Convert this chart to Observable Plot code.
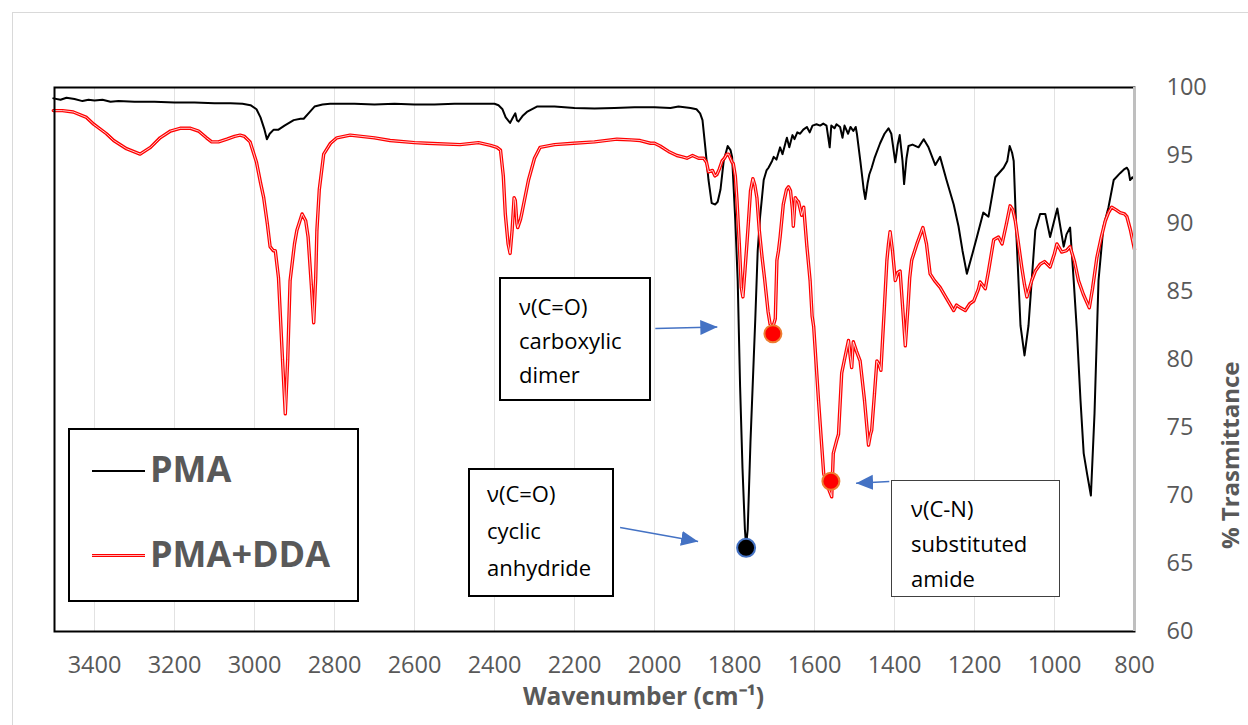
<!DOCTYPE html>
<html>
<head>
<meta charset="utf-8">
<script src="https://cdn.jsdelivr.net/npm/d3@7"></script>
<script src="https://cdn.jsdelivr.net/npm/@observablehq/plot@0.6"></script>
<style>
  html, body { margin: 0; padding: 0; background: #fff; overflow: hidden; }
  #wrap { position: relative; width: 1248px; height: 725px; font-family: "Open Sans", sans-serif; }
  #outer { position: absolute; left: 12px; top: 12px; width: 1260px; height: 740px; border: 1px solid #d9d9d9; box-sizing: border-box; }
  .box { position: absolute; box-sizing: border-box; background: #fff; color: #000; font-size: 22px; white-space: nowrap; }
  .legend { position: absolute; box-sizing: border-box; left: 68px; top: 428px; width: 291px; height: 174px; border: 2px solid #000; background: #fff; }
  .lg-line { position: absolute; left: 22px; width: 53px; }
  .lg-text { position: absolute; left: 80px; font-weight: bold; font-size: 36px; line-height: 40px; color: #595959; white-space: nowrap; }
  svg { position: absolute; left: 0; top: 0; }
</style>
</head>
<body>
<div id="wrap">
  <div id="outer"></div>
</div>
<script>
// ---- data ----
const xTicks = [3400, 3200, 3000, 2800, 2600, 2400, 2200, 2000, 1800, 1600, 1400, 1200, 1000, 800];
const yTicks = [60, 65, 70, 75, 80, 85, 90, 95, 100];
const seriesNames = ["PMA", "PMA+DDA"];
const xTitle = "Wavenumber (cm\u207B\u00B9)";
const yTitle = "% Trasmittance";

// PMA spectrum: [wavenumber, %T]
const pmaSpectrum = [
  [3503,99.2],[3485,99.1],[3470,99.25],[3450,99.15],[3430,99.0],[3415,99.1],[3400,99.05],[3380,99.1],[3360,98.95],[3340,99.0],
  [3300,98.95],[3250,98.95],[3200,98.9],[3150,98.9],[3100,98.85],[3060,98.85],[3030,98.8],[3010,98.7],[2995,98.4],
  [2985,97.8],[2975,96.9],[2969,96.2],[2962,96.6],[2952,96.9],[2940,96.9],[2925,97.2],[2902,97.6],[2885,97.7],
  [2877,97.7],[2865,98.1],[2850,98.6],[2830,98.75],[2811,98.8],[2750,98.8],[2700,98.75],[2650,98.8],[2600,98.75],
  [2550,98.75],[2500,98.8],[2450,98.8],[2400,98.8],[2390,98.7],[2380,98.4],[2372,97.8],[2361,97.4],[2354,97.8],
  [2348,98.1],[2344,97.6],[2340,97.5],[2330,97.9],[2319,98.2],[2294,98.6],[2250,98.6],[2200,98.5],[2150,98.45],
  [2100,98.5],[2050,98.55],[2000,98.55],[1960,98.5],[1940,98.6],[1910,98.5],[1895,98.4],[1886,98.1],[1880,97.6],
  [1873,95.6],[1865,93.2],[1857,91.5],[1848,91.4],[1842,91.6],[1835,92.5],[1827,94.6],[1817,95.7],[1810,95.4],
  [1806,94.9],[1798,90.2],[1792,85.8],[1786,78],[1780,72],[1774,67.5],[1771,66.3],[1767,67.5],[1760,74],[1752,80],
  [1748,83],[1742,88],[1736,90.5],[1727,93.2],[1720,93.9],[1715,94.1],[1706,94.6],[1702,94.9],[1695,94.7],[1686,95.6],
  [1680,95.1],[1672,96.0],[1669,96.3],[1663,95.6],[1655,96.5],[1650,96.2],[1643,96.7],[1636,96.6],[1628,96.9],
  [1619,97.1],[1612,96.7],[1605,97.2],[1595,97.3],[1586,97.2],[1578,97.35],[1570,97.2],[1565,96.2],[1562,95.6],
  [1558,97.2],[1550,97.0],[1545,97.3],[1536,97.1],[1530,96.3],[1525,97.2],[1516,96.6],[1510,97.1],[1503,96.8],
  [1497,97.1],[1494,96.6],[1485,94.5],[1477,92.5],[1473,91.8],[1467,93.0],[1463,93.6],[1457,94.1],[1450,94.8],
  [1436,95.9],[1425,96.6],[1415,97.0],[1408,96.6],[1398,94.5],[1392,95.8],[1387,96.5],[1380,94.6],[1376,92.9],
  [1370,94.8],[1365,95.7],[1355,95.8],[1340,95.6],[1327,96.2],[1315,95.6],[1298,94.3],[1286,94.9],[1270,93.2],
  [1252,91.4],[1240,89.8],[1230,88],[1219,86.3],[1205,87.8],[1194,89.0],[1178,90.8],[1165,90.5],[1148,93.4],
  [1127,94.1],[1118,94.6],[1112,95.7],[1106,95.2],[1102,94.6],[1095,89],[1085,82.5],[1075,80.3],[1065,82.5],
  [1057,85.8],[1048,89.5],[1036,90.7],[1023,90.7],[1011,89.0],[1000,90.3],[993,91.1],[985,89.7],[977,88.3],
  [970,89.2],[961,89.7],[952,85.8],[944,82.1],[935,77],[927,73.1],[918,71.5],[909,70.0],[900,76],[890,85.8],
  [878,89.7],[865,91.2],[852,93.2],[836,93.7],[825,94.0],[819,94.1],[815,93.9],[811,93.2],[805,93.4],[800,93.2]
];

// PMA+DDA spectrum: [wavenumber, %T]
const ddaSpectrum = [
  [3503,98.3],[3480,98.3],[3453,98.2],[3420,97.8],[3402,97.3],[3370,96.6],[3352,96.1],[3320,95.5],[3286,95.1],
  [3260,95.6],[3236,96.3],[3210,96.8],[3186,97.0],[3160,97.0],[3140,96.8],[3120,96.3],[3107,96.0],[3090,96.0],
  [3069,96.2],[3050,96.4],[3036,96.5],[3025,96.4],[3011,96.0],[2995,94.5],[2985,93],[2977,91.9],[2968,90],
  [2961,88.3],[2953,88.0],[2948,88.0],[2940,86],[2930,80],[2923,76.0],[2917,80],[2911,85.8],[2900,88.5],
  [2894,89.5],[2881,90.7],[2872,90.2],[2866,89],[2858,85.5],[2852,82.7],[2847,86],[2844,89.5],[2838,92.5],
  [2827,95.1],[2810,95.9],[2794,96.3],[2761,96.5],[2700,96.3],[2661,96.1],[2600,95.95],[2569,95.9],[2486,95.8],
  [2440,95.95],[2410,95.75],[2394,95.6],[2385,95.4],[2378,93.5],[2373,90.7],[2366,88.5],[2361,87.8],[2356,89.5],
  [2351,91.9],[2348,91.7],[2344,90.0],[2342,89.7],[2335,90.3],[2332,90.7],[2315,93.2],[2300,94.8],[2286,95.6],
  [2250,95.8],[2202,95.9],[2150,96.0],[2094,96.2],[2060,96.15],[2036,96.1],[2010,95.9],[2000,95.9],[1986,95.7],
  [1965,95.3],[1944,95.0],[1930,94.9],[1919,94.8],[1905,95.0],[1890,94.8],[1877,94.8],[1870,94.5],[1865,93.8],
  [1855,93.9],[1849,93.5],[1844,93.6],[1838,94.0],[1831,94.6],[1825,94.8],[1819,95.1],[1815,95.1],[1806,94.5],
  [1803,94.4],[1798,93.5],[1794,91.8],[1788,88.5],[1783,85.3],[1779,84.6],[1774,86.5],[1769,88.5],[1765,90.2],
  [1760,92.4],[1754,93.3],[1749,92.8],[1744,91.9],[1738,89.5],[1731,87.5],[1725,86.0],[1716,83.5],[1711,82.6],
  [1704,82.4],[1698,83.0],[1694,87.3],[1690,88],[1686,89.0],[1678,91.4],[1670,92.5],[1665,92.7],[1660,92.4],
  [1655,91.0],[1653,89.8],[1648,91.9],[1644,91.7],[1640,91.6],[1632,90.6],[1627,91.2],[1619,88.3],[1611,85.8],
  [1606,83.2],[1602,82.4],[1590,77],[1577,71.6],[1565,70.5],[1557,69.9],[1553,73.1],[1545,74.0],[1540,74.5],
  [1532,79.0],[1525,80],[1515,81.4],[1511,80.3],[1507,79.4],[1503,81.3],[1495,80.6],[1486,79.9],[1475,77],
  [1465,73.7],[1460,74.5],[1457,74.8],[1450,77.5],[1444,79.9],[1438,79.6],[1434,79.2],[1425,84],[1419,87.3],
  [1415,88.5],[1411,89.4],[1405,88],[1398,85.8],[1392,86.4],[1386,86.5],[1380,84],[1373,81.0],[1366,84],
  [1362,86],[1357,87.3],[1344,88.5],[1329,89.7],[1320,88.5],[1311,86.3],[1300,85.8],[1286,85.3],[1270,84.5],
  [1260,84.0],[1252,83.6],[1245,84.0],[1235,83.8],[1223,83.6],[1212,84.1],[1202,84.3],[1190,85.2],[1186,85.7],
  [1178,85.4],[1173,85.2],[1165,86.5],[1152,88.8],[1140,89.0],[1131,88.5],[1120,90],[1111,91.3],[1104,91.0],
  [1098,90.2],[1090,88.5],[1082,86.8],[1075,85.5],[1069,84.6],[1062,85.3],[1057,85.8],[1048,86.5],[1036,87.0],
  [1025,87.2],[1011,86.8],[1000,87.8],[994,88.5],[988,88.2],[982,87.9],[970,88.0],[961,88.3],[950,87.2],
  [940,85.8],[928,84.8],[913,83.8],[905,85.2],[894,87.5],[883,89.0],[873,90.2],[865,90.8],[857,91.2],[846,91.0],
  [836,90.8],[825,90.7],[819,90.5],[810,89.5],[800,88.1]
];

// highlighted peaks
const peakSeries = ["PMA", "PMA+DDA", "PMA+DDA"];
const peakWn = [1771, 1704, 1559];
const peakT = [66.15, 81.9, 71.05];

// annotation arrows (data units): from text box to peak
const arrowFromWn = [1998, 2086, 1413];
const arrowFromT = [82.28, 67.65, 71.03];
const arrowToWn = [1843, 1891, 1496];
const arrowToT = [82.39, 66.62, 70.9];

// annotation texts
const noteLines = [
  ["\u03BD(C=O)", "carboxylic", "dimer"],
  ["\u03BD(C=O)", "cyclic", "anhydride"],
  ["\u03BD(C-N)", "substituted", "amide"]
];

// ---- build ----
const pma = pmaSpectrum.map(([wn, t]) => ({wn, t}));
const dda = ddaSpectrum.map(([wn, t]) => ({wn, t}));
const peaks = peakWn.map((wn, i) => ({wn, t: peakT[i], series: peakSeries[i]}));
const arrows = arrowFromWn.map((x1, i) => ({x1, y1: arrowFromT[i], x2: arrowToWn[i], y2: arrowToT[i]}));

const headMarker = (color, context) => {
  const doc = (context && context.document) || document;
  const ns = "http://www.w3.org/2000/svg";
  const m = doc.createElementNS(ns, "marker");
  m.setAttribute("viewBox", "-17 -8 17 16");
  m.setAttribute("markerWidth", "17");
  m.setAttribute("markerHeight", "16");
  m.setAttribute("markerUnits", "userSpaceOnUse");
  m.setAttribute("refX", "0");
  m.setAttribute("refY", "0");
  m.setAttribute("orient", "auto");
  const p = doc.createElementNS(ns, "path");
  p.setAttribute("d", "M-17,-7.5L0,0L-17,7.5Z");
  p.setAttribute("fill", color);
  p.setAttribute("stroke", "none");
  m.appendChild(p);
  return m;
};

const chart = Plot.plot({
  width: 1248,
  height: 725,
  marginLeft: 54,
  marginRight: 114,
  marginTop: 87,
  marginBottom: 94,
  style: {fontFamily: "'Open Sans', sans-serif", fontSize: "23.5px", color: "#595959", background: "transparent", overflow: "visible"},
  x: {domain: [3500, 800]},
  y: {domain: [60, 100]},
  marks: [
    Plot.gridX(xTicks, {stroke: "#e2e2e2", strokeOpacity: 1, strokeWidth: 1}),
    Plot.axisX(xTicks, {tickSize: 0, tickPadding: 25, label: null, tickFormat: "d", fontSize: 23.5}),
    Plot.axisY(yTicks, {anchor: "right", tickSize: 0, tickPadding: 32, label: null, tickFormat: "d", fontSize: 23.5}),
    Plot.line(pma, {x: "wn", y: "t", stroke: "#000000", strokeWidth: 2, curve: "linear"}),
    Plot.line(dda, {x: "wn", y: "t", stroke: "#ff0000", strokeWidth: 3.4, curve: "linear"}),
    Plot.line(dda, {x: "wn", y: "t", stroke: "#ffffff", strokeWidth: 1, strokeOpacity: 0.8, curve: "linear"}),
    Plot.frame({stroke: "#000000", strokeWidth: 2}),
    Plot.ruleX([800], {stroke: "#bfbfbf", strokeWidth: 3}),
    Plot.link(arrows, {x1: "x1", y1: "y1", x2: "x2", y2: "y2", stroke: "#4472C4", strokeWidth: 1.5, markerEnd: headMarker}),
    Plot.dot(peaks.filter(d => d.series === seriesNames[0]), {x: "wn", y: "t", r: 9, fill: "#000000", stroke: "#4472C4", strokeWidth: 2}),
    Plot.dot(peaks.filter(d => d.series === seriesNames[1]), {x: "wn", y: "t", r: 8.5, fill: "#ff0000", stroke: "#ED7D31", strokeWidth: 2}),
    Plot.text([xTitle], {frameAnchor: "bottom", dx: 49, dy: 73, fontWeight: "bold", fontSize: 24.5, fill: "#595959"}),
    Plot.text([yTitle], {frameAnchor: "right", dx: 97, dy: 2, rotate: -90, fontWeight: "bold", fontSize: 24, fill: "#595959"})
  ]
});

const wrap = document.getElementById("wrap");
wrap.appendChild(chart);

// legend (inside plot area)
const legend = document.createElement("div");
legend.className = "legend";
legend.innerHTML = `
  <div class="lg-line" style="top:40px;height:2px;background:#000;"></div>
  <div class="lg-text" style="top:19px;">${seriesNames[0]}</div>
  <div class="lg-line" style="top:124px;height:1px;border-top:1.5px solid #ff0000;border-bottom:1.5px solid #ff0000;background:#ffb3b3;"></div>
  <div class="lg-text" style="top:104px;">${seriesNames[1]}</div>`;
wrap.appendChild(legend);

// annotation boxes
const boxLayout = [
  {left: 499, top: 277, width: 152, height: 124, padL: 18, padT: 10, lh: 34, border: "2px solid #000"},
  {left: 468, top: 468, width: 146, height: 129, padL: 17, padT: 5, lh: 37, border: "2px solid #000"},
  {left: 891, top: 480, width: 169, height: 117, padL: 19, padT: 10, lh: 35, border: "1.5px solid #404040"}
];
noteLines.forEach((lines, i) => {
  const b = boxLayout[i];
  const el = document.createElement("div");
  el.className = "box";
  el.style.left = b.left + "px";
  el.style.top = b.top + "px";
  el.style.width = b.width + "px";
  el.style.height = b.height + "px";
  el.style.border = b.border;
  el.style.paddingLeft = b.padL + "px";
  el.style.paddingTop = b.padT + "px";
  el.style.lineHeight = b.lh + "px";
  el.innerHTML = lines.join("<br>");
  wrap.appendChild(el);
});
</script>
</body>
</html>
